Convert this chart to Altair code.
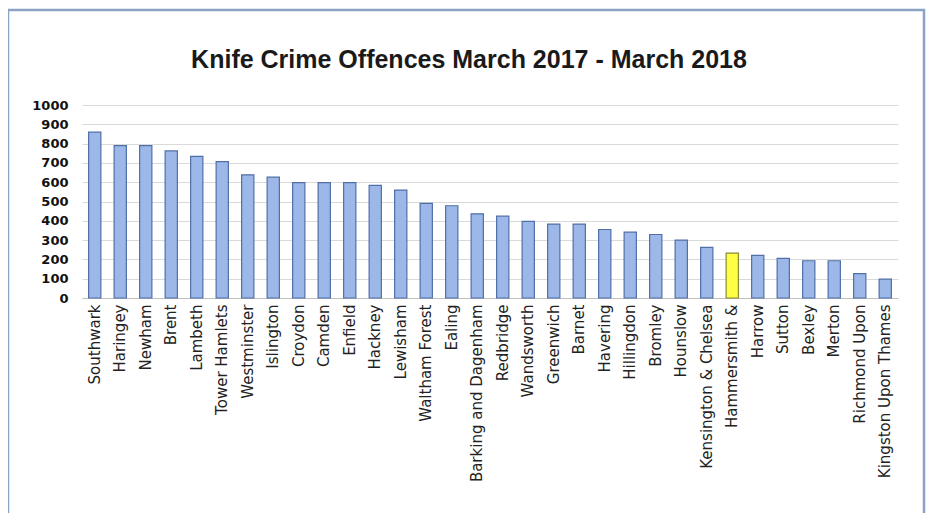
import altair as alt
import pandas as pd

boroughs = [
    "Southwark", "Haringey", "Newham", "Brent", "Lambeth", "Tower Hamlets",
    "Westminster", "Islington", "Croydon", "Camden", "Enfield", "Hackney",
    "Lewisham", "Waltham Forest", "Ealing", "Barking and Dagenham", "Redbridge",
    "Wandsworth", "Greenwich", "Barnet", "Havering", "Hillingdon", "Bromley",
    "Hounslow", "Kensington & Chelsea", "Hammersmith &", "Harrow", "Sutton",
    "Bexley", "Merton", "Richmond Upon", "Kingston Upon Thames",
]
offences = [
    859, 790, 790, 762, 734, 707, 638, 626, 598, 598, 598, 584,
    559, 490, 478, 436, 424, 397, 383, 383, 355, 341, 329,
    300, 262, 233, 221, 205, 193, 193, 126, 98,
]
highlight = ["Hammersmith &"]

df = pd.DataFrame({"borough": boroughs, "offences": offences})
df["hl"] = df["borough"].isin(highlight).map({True: "yes", False: "no"})

W, H = 816, 193

frame = alt.Chart(pd.DataFrame({"a": [0]})).mark_rect(
    fill=None, stroke="#8AA4C4", strokeWidth=2.5
).encode(
    x=alt.value(-74), x2=alt.value(842), y=alt.value(-95), y2=alt.value(430)
)

bars = alt.Chart(df).mark_bar(strokeWidth=1.2).encode(
    x=alt.X("borough:N", sort=boroughs, title=None,
            scale=alt.Scale(paddingInner=0.52, paddingOuter=0.26),
            axis=alt.Axis(labelAngle=270, labelFont="DejaVu Sans", labelFontSize=15,
                          labelColor="#222222", ticks=False, domainColor="#BFBFBF",
                          labelPadding=6, labelLimit=300)),
    y=alt.Y("offences:Q", title=None,
            scale=alt.Scale(domain=[0, 1000], nice=False),
            axis=alt.Axis(values=list(range(0, 1001, 100)), format="d",
                          labelFont="DejaVu Sans",
                          labelFontWeight="bold", labelFontSize=13, labelColor="#111111",
                          ticks=False, domain=False, labelPadding=14,
                          gridColor="#D9D9D9", gridWidth=1)),
    fill=alt.Fill("hl:N", scale=alt.Scale(domain=["no", "yes"], range=["#9DB8E8", "#FFFF44"]), legend=None),
    stroke=alt.Stroke("hl:N", scale=alt.Scale(domain=["no", "yes"], range=["#4F6FA8", "#8A8A30"]), legend=None),
)

chart = alt.layer(bars, frame).properties(
    width=W, height=H,
    autosize=alt.AutoSizeParams(type="none"),
    padding={"left": 74, "top": 97, "right": 28, "bottom": 220},
    title=alt.TitleParams("Knife Crime Offences March 2017 - March 2018",
                          font="Liberation Sans", fontSize=25, fontWeight="bold",
                          color="#1a1a1a", anchor="middle", dx=-21, offset=0, dy=64),
).configure_view(stroke=None).configure_axis(labelOverlap=False)

chart.save("out.html", embed_options={"renderer": "svg", "actions": False})
